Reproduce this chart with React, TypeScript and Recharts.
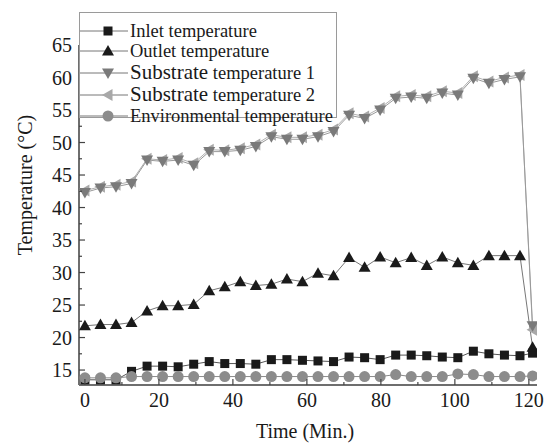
import React from 'react';
import { LineChart, Line, XAxis, YAxis } from 'recharts';

// sample times (min) of the plotted markers, last one is the shut-down point
const times = [0, 4.2, 8.4, 12.6, 16.8, 21, 25.2, 29.4, 33.6, 37.8, 42, 46.2, 50.4, 54.6, 58.8, 63, 67.2, 71.4, 75.6, 79.8, 84, 88.2, 92.4, 96.6, 100.8, 105, 109.2, 113.4, 117.6, 121];

const inlet = [13.5, 13.5, 13.5, 14.8, 15.6, 15.6, 15.5, 15.9, 16.3, 16.0, 16.0, 15.9, 16.6, 16.6, 16.5, 16.4, 16.3, 17.0, 16.9, 16.6, 17.3, 17.3, 17.2, 17.0, 16.9, 17.9, 17.5, 17.3, 17.2, 17.6];
const outlet = [21.8, 22.0, 22.0, 22.3, 24.1, 24.9, 24.9, 25.1, 27.2, 27.8, 28.6, 28.0, 28.2, 29.0, 28.6, 29.9, 29.5, 32.3, 30.8, 32.4, 31.5, 32.3, 31.1, 32.4, 31.5, 31.1, 32.6, 32.6, 32.6, 18.5];
const substrate1 = [42.3, 43.0, 43.2, 43.7, 47.3, 47.1, 47.3, 46.5, 48.6, 48.6, 48.8, 49.4, 50.9, 50.5, 50.5, 50.9, 51.7, 54.2, 53.7, 55.0, 56.8, 57.0, 56.8, 57.6, 57.3, 59.9, 59.1, 59.7, 60.1, 21.8];
const substrate2 = [42.6, 43.2, 43.5, 44.0, 47.5, 47.3, 47.6, 46.8, 48.9, 48.8, 49.1, 49.7, 51.2, 50.8, 50.8, 51.2, 52.0, 54.5, 54.0, 55.3, 57.1, 57.3, 57.1, 57.9, 57.6, 60.2, 59.4, 60.0, 60.4, 21.2];
const environment = [13.8, 13.8, 13.8, 14.0, 14.0, 14.0, 14.0, 14.0, 14.0, 14.0, 14.0, 14.0, 14.0, 14.0, 14.0, 14.0, 14.0, 14.0, 14.0, 14.0, 14.3, 14.0, 14.0, 14.0, 14.4, 14.3, 14.0, 14.0, 14.0, 14.1];

const xTicks = [0, 10, 20, 30, 40, 50, 60, 70, 80, 90, 100, 110, 120];
const yTicks = [15, 17.5, 20, 22.5, 25, 27.5, 30, 32.5, 35, 37.5, 40, 42.5, 45, 47.5, 50, 52.5, 55, 57.5, 60, 62.5, 65];

const legendRows = [
  { key: 'inlet', big: '', label: 'Inlet temperature', shape: 'square', color: '#1a1a1a' },
  { key: 'outlet', big: '', label: 'Outlet temperature', shape: 'up', color: '#1a1a1a' },
  { key: 'substrate1', big: 'Substrate', label: ' temperature 1', shape: 'down', color: '#7a7a7a' },
  { key: 'substrate2', big: 'Substrate', label: ' temperature 2', shape: 'left', color: '#a8a8a8' },
  { key: 'environment', big: '', label: 'Environmental temperature', shape: 'circle', color: '#8c8c8c' },
];

const chartData = times.map((t, i) => ({
  t,
  inlet: inlet[i],
  outlet: outlet[i],
  substrate1: substrate1[i],
  substrate2: substrate2[i],
  environment: environment[i],
}));

const FONT = "'Liberation Serif', 'Times New Roman', serif";
const AXIS = '#6e6e6e';

const marker = (shape: string, color: string, cx: number, cy: number, key?: any) => {
  if (shape === 'square') return <rect key={key} x={cx - 4.5} y={cy - 4.5} width={9} height={9} fill={color} />;
  if (shape === 'up') return <polygon key={key} points={`${cx},${cy - 6} ${cx - 6},${cy + 4.5} ${cx + 6},${cy + 4.5}`} fill={color} />;
  if (shape === 'down') return <polygon key={key} points={`${cx},${cy + 6} ${cx - 6},${cy - 4.5} ${cx + 6},${cy - 4.5}`} fill={color} />;
  if (shape === 'left') return <polygon key={key} points={`${cx - 6},${cy} ${cx + 4.5},${cy - 6} ${cx + 4.5},${cy + 6}`} fill={color} />;
  return <circle key={key} cx={cx} cy={cy} r={5.5} fill={color} />;
};

const dotFor = (shape: string, color: string) => (props: any) => {
  const { cx, cy, index } = props;
  if (cx == null || cy == null) return <g key={index} />;
  return marker(shape, color, cx, cy, index);
};

const BottomTick = (props: any) => {
  const { x, y, payload } = props;
  const major = payload.value % 20 === 0;
  return (
    <g>
      <line x1={x} y1={y} x2={x} y2={y - (major ? 6 : 3)} stroke="#444" strokeWidth={1.2} />
      {major && (
        <text x={x} y={y + 22} textAnchor="middle" fontFamily={FONT} fontSize={20} fill="#1a1a1a">
          {payload.value}
        </text>
      )}
    </g>
  );
};

const TopTick = (props: any) => {
  const { x, y, payload } = props;
  const major = payload.value % 20 === 0;
  return <line x1={x} y1={y} x2={x} y2={y + (major ? 6 : 3)} stroke="#444" strokeWidth={1.2} />;
};

const LeftTick = (props: any) => {
  const { x, y, payload } = props;
  const major = payload.value % 5 === 0;
  return (
    <g>
      <line x1={x} y1={y} x2={x + (major ? 6 : 3)} y2={y} stroke="#444" strokeWidth={1.2} />
      {major && (
        <text x={x - 7} y={y + 7} textAnchor="end" fontFamily={FONT} fontSize={20} fill="#1a1a1a">
          {payload.value}
        </text>
      )}
    </g>
  );
};

const RightTick = (props: any) => {
  const { x, y, payload } = props;
  const major = payload.value % 5 === 0;
  return <line x1={x} y1={y} x2={x - (major ? 6 : 3)} y2={y} stroke="#444" strokeWidth={1.2} />;
};

const ChartLegend = () => (
  <div
    style={{
      position: 'absolute',
      left: 79,
      top: 12,
      width: 258,
      height: 106,
      border: '1px solid #9a9a9a',
      background: '#fff',
      boxSizing: 'border-box',
    }}
  >
    <svg width={258} height={106} style={{ display: 'block', overflow: 'visible' }}>
      {legendRows.map((r, i) => {
        const cy = [18, 38, 60, 82, 103][i];
        return (
          <g key={r.key}>
            <line x1={0} y1={cy} x2={48} y2={cy} stroke="#777" strokeWidth={1} />
            {marker(r.shape, r.color, 28, cy)}
            <text x={50} y={cy + 6} fontFamily={FONT} fontSize={18.5} fill="#1a1a1a">
              {r.big && <tspan fontSize={21}>{r.big}</tspan>}
              {r.label}
            </text>
          </g>
        );
      })}
    </svg>
  </div>
);

export default function App() {
  return (
    <div style={{ position: 'absolute', left: 0, top: 0, width: 551, height: 445, background: '#fff' }}>
      <LineChart width={551} height={445} data={chartData} margin={{ top: 45, right: 14, bottom: 0, left: 0 }}>
        <XAxis
          xAxisId="b"
          dataKey="t"
          type="number"
          domain={[-1.6, 122.2]}
          ticks={xTicks}
          interval={0}
          allowDataOverflow
          height={60}
          tickSize={0}
          tickMargin={0}
          tickLine={false}
          tick={<BottomTick />}
          axisLine={{ stroke: AXIS, strokeWidth: 2 }}
          label={{
            content: () => (
              <text x={305} y={438} textAnchor="middle" fontFamily={FONT} fontSize={20} fill="#1a1a1a">
                Time (Min.)
              </text>
            ),
          }}
        />
        <XAxis
          xAxisId="t"
          dataKey="t"
          type="number"
          orientation="top"
          domain={[-1.6, 122.2]}
          ticks={xTicks}
          interval={0}
          allowDataOverflow
          height={0}
          tickSize={0}
          tickMargin={0}
          tickLine={false}
          tick={<TopTick />}
          axisLine={{ stroke: AXIS, strokeWidth: 2 }}
        />
        <YAxis
          yAxisId="l"
          type="number"
          domain={[12.7, 65]}
          ticks={yTicks}
          interval={0}
          allowDataOverflow
          width={79}
          tickSize={0}
          tickMargin={0}
          tickLine={false}
          tick={<LeftTick />}
          axisLine={{ stroke: AXIS, strokeWidth: 2 }}
          label={{
            content: () => (
              <text
                x={25}
                y={185}
                transform="rotate(-90 25 185)"
                textAnchor="middle"
                dominantBaseline="central"
                fontFamily={FONT}
                fontSize={20}
                fill="#1a1a1a"
              >
                Temperature (°C)
              </text>
            ),
          }}
        />
        <YAxis
          yAxisId="r"
          type="number"
          orientation="right"
          domain={[12.7, 65]}
          ticks={yTicks}
          interval={0}
          allowDataOverflow
          width={0}
          tickSize={0}
          tickMargin={0}
          tickLine={false}
          tick={<RightTick />}
          axisLine={{ stroke: AXIS, strokeWidth: 2 }}
        />
        <Line xAxisId="b" yAxisId="l" type="linear" dataKey="inlet" stroke="#555" strokeWidth={1}
          dot={dotFor('square', '#1a1a1a')} activeDot={false} isAnimationActive={false} />
        <Line xAxisId="b" yAxisId="l" type="linear" dataKey="environment" stroke="#8a8a8a" strokeWidth={1}
          dot={dotFor('circle', '#8c8c8c')} activeDot={false} isAnimationActive={false} />
        <Line xAxisId="b" yAxisId="l" type="linear" dataKey="outlet" stroke="#777" strokeWidth={1}
          dot={dotFor('up', '#1a1a1a')} activeDot={false} isAnimationActive={false} />
        <Line xAxisId="b" yAxisId="l" type="linear" dataKey="substrate2" stroke="#b0b0b0" strokeWidth={1}
          dot={dotFor('left', '#a8a8a8')} activeDot={false} isAnimationActive={false} />
        <Line xAxisId="b" yAxisId="l" type="linear" dataKey="substrate1" stroke="#999" strokeWidth={1}
          dot={dotFor('down', '#7a7a7a')} activeDot={false} isAnimationActive={false} />
      </LineChart>
      <ChartLegend />
    </div>
  );
}
